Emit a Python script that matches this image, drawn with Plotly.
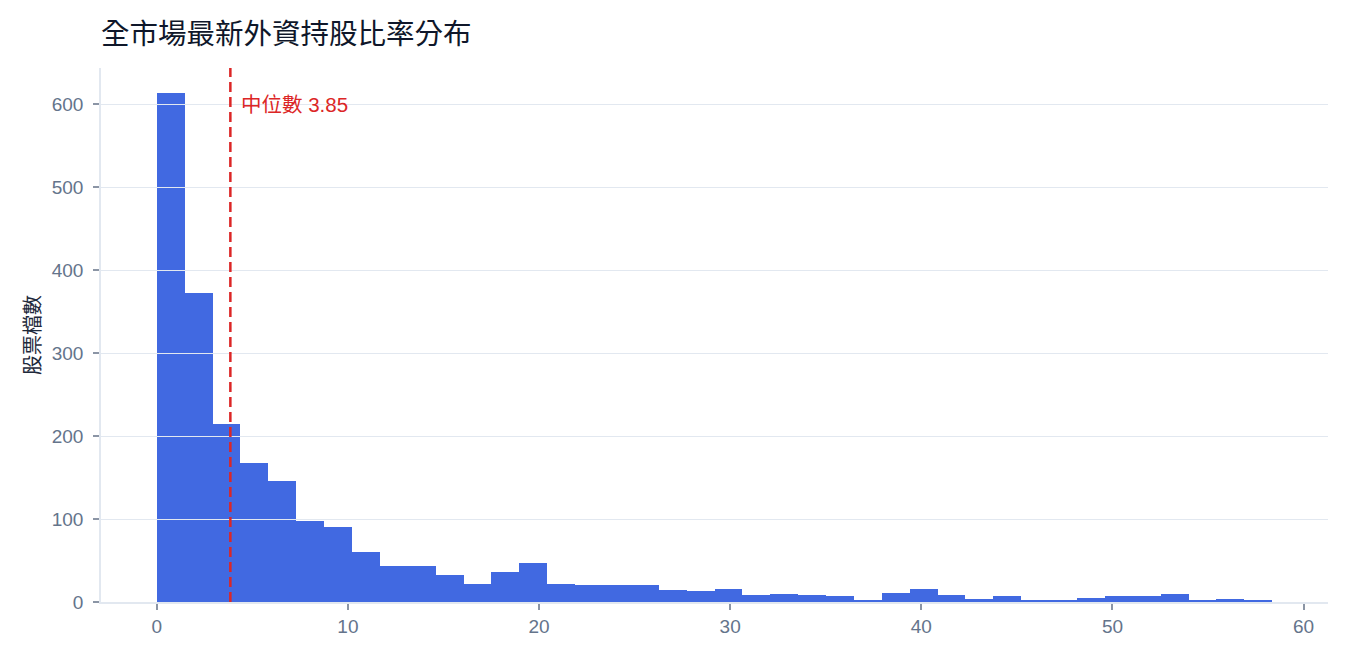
import plotly.graph_objects as go

# Histogram of latest foreign ownership ratio (%) across the market
# ---------------------------------------------------------
bin_start = 0.0
bin_size = 1.459
counts = [
    613, 373, 214, 167, 146, 98, 90, 60, 44, 44,
    32, 22, 36, 47, 22, 21, 20, 20, 14, 13,
    16, 9, 10, 9, 7, 2, 11, 16, 9, 4,
    7, 3, 3, 5, 7, 7, 10, 3, 4, 3,
]
median_value = 3.85

title_text = "全市場最新外資持股比率分布"
y_title = "股票檔數"
median_label = f"中位數 {median_value:.2f}"

bin_centers = [bin_start + bin_size * (i + 0.5) for i in range(len(counts))]
bin_end = bin_start + bin_size * len(counts)
pad = 0.05 * (bin_end - bin_start)   # same 5% padding as plotly's autorange
x_range = [bin_start - pad, bin_end + pad]
y_range = [0, max(counts) * 1.05]

FONT = "Liberation Sans, Noto Sans CJK TC, sans-serif"
GRID = "#e2e8f0"
TICK_TXT = "#64748b"
W, H = 1342, 652   # page body has an 8px margin

fig = go.Figure()

fig.add_trace(go.Bar(
    x=bin_centers, y=counts, width=bin_size,
    marker=dict(color="#4169E1", line=dict(width=0)),
    showlegend=False, hoverinfo="x+y",
))

# empty trace on a twin subplot so its gridlines sit above the bars
fig.add_trace(go.Scatter(x=[], y=[], xaxis="x2", yaxis="y2", showlegend=False))

fig.add_vline(x=median_value, line=dict(color="#dc2626", width=2.5, dash="10px,5px"))
fig.add_annotation(
    x=median_value, y=600, xref="x", yref="y", text=median_label,
    showarrow=False, xanchor="left", yanchor="middle", xshift=9,
    font=dict(color="#dc2626", size=20.5, family=FONT),
)

fig.update_layout(
    width=W, height=H,
    margin=dict(l=93, r=22, t=60, b=58),
    paper_bgcolor="white",
    plot_bgcolor="rgba(0,0,0,0)",
    bargap=0,
    font=dict(family=FONT, size=19, color=TICK_TXT),
    title=dict(
        text=title_text, xref="paper", x=0, xanchor="left",
        yref="container", y=1 - 26 / H, yanchor="middle",
        font=dict(size=28.5, color="#0f172a", family=FONT),
    ),
    xaxis=dict(
        range=x_range,
        showgrid=False, zeroline=False,
        showline=True, linecolor=GRID, linewidth=1.5,
        ticks="outside", ticklen=6, tickwidth=1.5, tickcolor="#8b95a5",
        tickfont=dict(size=19, color=TICK_TXT),
        dtick=10,
    ),
    yaxis=dict(
        range=y_range,
        showgrid=False, zeroline=False,
        showline=True, linecolor=GRID, linewidth=1.5,
        ticks="outside", ticklen=6, tickwidth=1.5, tickcolor="#8b95a5",
        tickfont=dict(size=19, color=TICK_TXT), ticklabelstandoff=6,
        dtick=100,
        title=dict(text=y_title, font=dict(size=20, color="#1e293b"), standoff=6),
    ),
    xaxis2=dict(range=x_range, anchor="y2", visible=False),
    yaxis2=dict(
        range=y_range, anchor="x2", dtick=100,
        showgrid=True, gridcolor=GRID, gridwidth=1,
        zeroline=False, showline=False, showticklabels=False, ticks="",
    ),
)

fig.write_html("out.html")
